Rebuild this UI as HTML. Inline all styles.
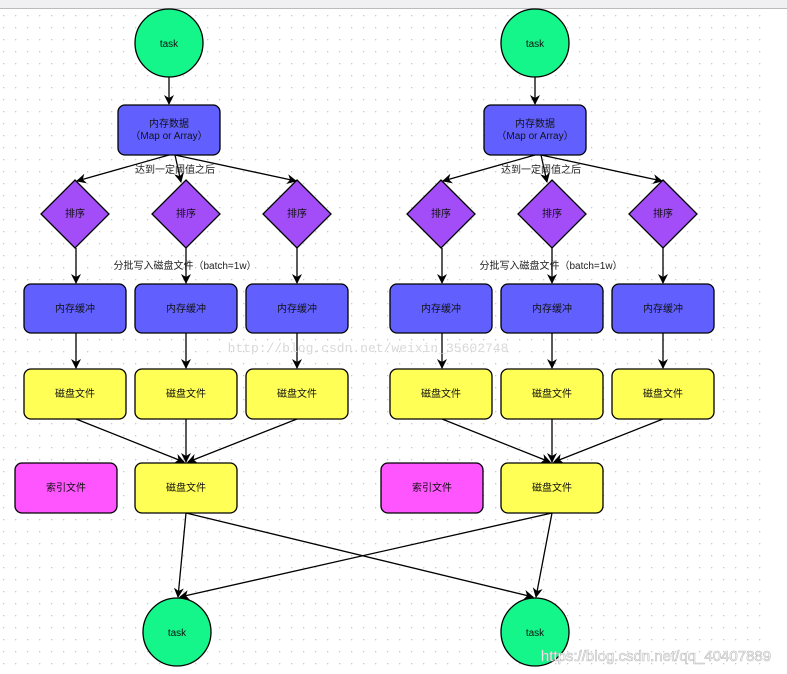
<!DOCTYPE html>
<html><head><meta charset="utf-8"><style>
html,body{margin:0;padding:0;background:#fff;}
svg{display:block;font-family:"Liberation Sans","Noto Sans CJK SC",sans-serif;}
</style></head><body>
<svg width="787" height="674" viewBox="0 0 787 674" xmlns="http://www.w3.org/2000/svg">
<defs>
<pattern id="dots" x="3" y="3" width="12" height="12" patternUnits="userSpaceOnUse"><rect x="0" y="0" width="1.3" height="1.3" fill="#c8c8c8"/></pattern>
<marker id="ar" markerWidth="10" markerHeight="10" refX="9" refY="5" orient="auto" markerUnits="userSpaceOnUse"><path d="M0,0 L10,5 L0,10 L3,5 Z" fill="#000"/></marker>
</defs>
<rect width="787" height="674" fill="#fff"/>
<rect y="9" width="762" height="665" fill="url(#dots)"/>
<rect width="787" height="8" fill="#f0f0f2"/>
<line x1="0" y1="8.5" x2="787" y2="8.5" stroke="#bbb"/>
<g id="half" stroke="#000" stroke-width="1.3" font-size="10" text-anchor="middle">
<line x1="169" y1="77" x2="169" y2="104" marker-end="url(#ar)"/>
<line x1="169" y1="155" x2="77" y2="181" marker-end="url(#ar)"/>
<line x1="175" y1="155" x2="181" y2="182" marker-end="url(#ar)"/>
<line x1="175" y1="155" x2="296" y2="181" marker-end="url(#ar)"/>
<line x1="76" y1="248" x2="76" y2="283" marker-end="url(#ar)"/>
<line x1="186" y1="248" x2="186" y2="283" marker-end="url(#ar)"/>
<line x1="297" y1="248" x2="297" y2="283" marker-end="url(#ar)"/>
<line x1="76" y1="333" x2="76" y2="368" marker-end="url(#ar)"/>
<line x1="186" y1="333" x2="186" y2="368" marker-end="url(#ar)"/>
<line x1="297" y1="333" x2="297" y2="368" marker-end="url(#ar)"/>
<line x1="76" y1="419" x2="184" y2="462" marker-end="url(#ar)"/>
<line x1="186" y1="419" x2="186" y2="462" marker-end="url(#ar)"/>
<line x1="297" y1="419" x2="188" y2="462" marker-end="url(#ar)"/>
<circle cx="169" cy="43" r="34" fill="#14f58a"/>
<rect x="118" y="105" width="102" height="50" rx="7" fill="#6160ff"/>
<polygon points="75,180 109,214 75,248 41,214" fill="#a24df8"/>
<polygon points="186,180 220,214 186,248 152,214" fill="#a24df8"/>
<polygon points="297,180 331,214 297,248 263,214" fill="#a24df8"/>
<rect x="24" y="284" width="102" height="49" rx="7" fill="#6160ff"/>
<rect x="135" y="284" width="102" height="49" rx="7" fill="#6160ff"/>
<rect x="246" y="284" width="102" height="49" rx="7" fill="#6160ff"/>
<rect x="24" y="369" width="102" height="50" rx="7" fill="#ffff55"/>
<rect x="135" y="369" width="102" height="50" rx="7" fill="#ffff55"/>
<rect x="246" y="369" width="102" height="50" rx="7" fill="#ffff55"/>
<rect x="15" y="463" width="102" height="50" rx="7" fill="#ff55ff"/>
<rect x="135" y="463" width="102" height="50" rx="7" fill="#ffff55"/>
<g stroke="none" fill="#111">
<text x="169" y="47">task</text>
<text x="169" y="127">内存数据</text>
<text x="169" y="139">（Map or Array）</text>
<text x="175" y="173" fill="#222">达到一定阈值之后</text>
<text x="75" y="217">排序</text><text x="186" y="217">排序</text><text x="297" y="217">排序</text>
<text x="185" y="269" fill="#222">分批写入磁盘文件（batch=1w）</text>
<text x="75" y="312">内存缓冲</text><text x="186" y="312">内存缓冲</text><text x="297" y="312">内存缓冲</text>
<text x="75" y="397">磁盘文件</text><text x="186" y="397">磁盘文件</text><text x="297" y="397">磁盘文件</text>
<text x="66" y="491">索引文件</text><text x="186" y="491">磁盘文件</text>
</g>
</g>
<use href="#half" x="366" y="0"/>
<g stroke="#000" stroke-width="1.3">
<line x1="186" y1="513" x2="178" y2="597" marker-end="url(#ar)"/>
<line x1="186" y1="513" x2="533" y2="597" marker-end="url(#ar)"/>
<line x1="552" y1="513" x2="536" y2="597" marker-end="url(#ar)"/>
<line x1="552" y1="513" x2="180" y2="597" marker-end="url(#ar)"/>
<circle cx="177" cy="632" r="34" fill="#14f58a"/>
<circle cx="535" cy="632" r="34" fill="#14f58a"/>
</g>
<g font-size="10" text-anchor="middle" fill="#111">
<text x="177" y="636">task</text><text x="535" y="636">task</text>
</g>
<text x="368" y="352" font-family="Liberation Mono, monospace" font-size="13" fill="#d8d8d8" text-anchor="middle">http://blog.csdn.net/weixin_35602748</text>
<text x="656" y="661" font-size="15" fill="#fff" stroke="#bbb" stroke-width="0.6" text-anchor="middle">https://blog.csdn.net/qq_40407889</text>
</svg>
</body></html>
